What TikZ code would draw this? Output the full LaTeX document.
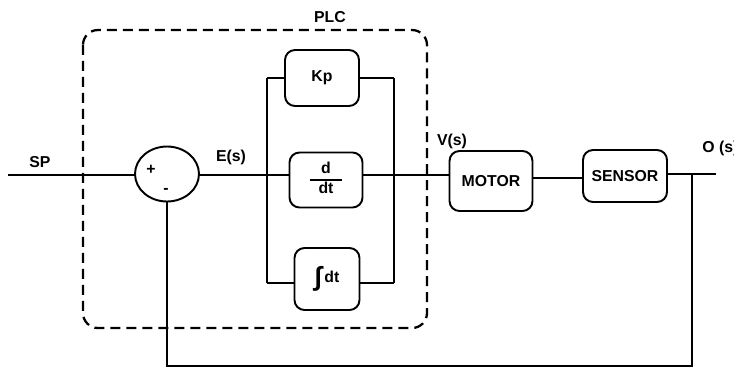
\documentclass[tikz,border=0pt]{standalone}
\usepackage{fontspec}
\setmainfont{Liberation Sans}
\usetikzlibrary{positioning,shapes.geometric,calc}

\begin{document}
\begin{tikzpicture}[x=0.02cm,y=-0.02cm,
    ln/.style={line width=1.1pt},
    blk/.style={draw,line width=1.1pt,rounded corners=0.2cm,inner sep=0pt,
        font=\fontsize{9}{11}\selectfont\bfseries},
    lbl/.style={font=\fontsize{9}{11}\selectfont\bfseries,inner sep=0pt}]
    \useasboundingbox (0,0) rectangle (734,369);
    \clip (0,0) rectangle (734,369);

    % the PLC frame
    \draw[line width=1.3pt,dash pattern=on 0.2cm off 0.12cm,rounded corners=0.3cm]
        (83,30) rectangle (427,328);
    \node[lbl] (plc) at (330,17) {PLC};

    % summing point
    \node[draw,ln,ellipse,minimum width=1.28cm,minimum height=1.1cm] (sum) at (167,174) {};
    \node[lbl] at (151,170) {+};
    \node[lbl] at (166,191) {-};

    % blocks
    \node[blk,minimum width=1.48cm,minimum height=1.12cm] (kp) at (322,78) {Kp};
    \node[blk,minimum width=1.46cm,minimum height=1.1cm] (deriv) at (326,180)
        {\setlength{\arrayrulewidth}{1pt}\renewcommand{\arraystretch}{0.9}%
         \begin{tabular}{@{\hspace{5pt}}c@{\hspace{5pt}}}d\\\hline dt\end{tabular}};
    \node[blk,minimum width=1.3cm,minimum height=1.24cm] (integ) at (327,279)
        {\raisebox{-2pt}{\fontsize{15}{15}\selectfont ∫}\,dt};
    \node[blk,minimum width=1.66cm,minimum height=1.2cm] (motor) at (491,181) {MOTOR};
    \node[blk,minimum width=1.68cm,minimum height=1.04cm] (sensor) at (625,176) {SENSOR};

    % labels
    \node[lbl] (sp) at (40,162) {SP};
    \node[lbl] (es) at (231,157) {E(s)};
    \node[lbl] (vs) at (452,141) {V(s)};
    \node[lbl,anchor=west] (os) at (702,148) {O (s)};

    % bus points
    \coordinate (in) at (8,175);
    \coordinate (lt) at (267,78);
    \coordinate (lm) at (267,175);
    \coordinate (lb) at (267,283);
    \coordinate (rt) at (394,78);
    \coordinate (rm) at (394,175);
    \coordinate (rb) at (394,283);
    \coordinate (ms) at (558,178);
    \coordinate (out) at (716,174);
    \coordinate (fb) at (692,174);
    \coordinate (fbl) at (692,366);

    % connectors
    \draw[ln] (in) -- (sum.west |- in);
    \draw[ln] (sum.east |- lm) -- (lm) -- (deriv.west |- lm);
    \draw[ln] (lt) -- (lb);
    \draw[ln] (rt) -- (rb);
    \draw[ln] (lt) -- (kp.west |- lt);
    \draw[ln] (kp.east |- rt) -- (rt);
    \draw[ln] (lb) -- (integ.west |- lb);
    \draw[ln] (integ.east |- rb) -- (rb);
    \draw[ln] (deriv.east |- rm) -- (rm) -- (motor.west |- rm);
    \draw[ln] (motor.east |- ms) -- (sensor.west |- ms);
    \draw[ln] (sensor.east |- out) -- (out);
    \draw[ln] (fb) -- (fbl) -| (sum.south);
\end{tikzpicture}
\end{document}
